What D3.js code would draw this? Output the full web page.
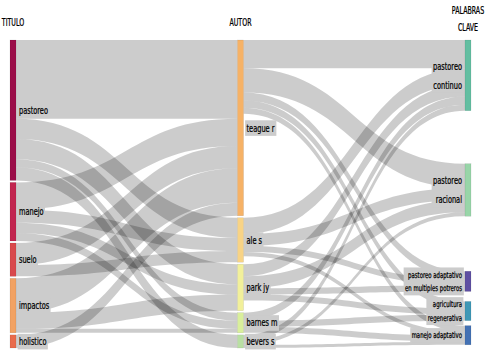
<!DOCTYPE html>
<html>
<head>
<meta charset="utf-8">
<script src="https://cdn.jsdelivr.net/npm/d3@7"></script>
<style>
  body { margin: 0; background: #fff; }
  text { font-family: "DejaVu Sans Condensed", "DejaVu Sans", sans-serif; }
</style>
</head>
<body>
<div id="chart"></div>
<script>
// column headers and node names (top to bottom)
var headers = ["TITULO", "AUTOR", "PALABRAS\nCLAVE"];
var titulo = ["pastoreo", "manejo", "suelo", "impactos", "holistico"];
var autor = ["teague r", "ale s", "park jy", "barnes m", "bevers s"];
var clave = ["pastoreo\ncontinuo", "pastoreo\nracional", "pastoreo adaptativo\nen multiples potreros",
             "agricultura\nregenerativa", "manejo adaptativo"];

// flows: rows = titulo, cols = autor
var tituloAutor = [
  [78, 20, 20, 8, 13],
  [27, 13, 10, 8, 0],
  [22, 11, 0, 0, 0],
  [34, 0, 16, 4, 0],
  [13, 0, 0, 0, 0]
];
// flows: rows = autor, cols = clave
var autorClave = [
  [28, 24, 8, 7, 6],
  [16, 12, 6, 0, 4],
  [12, 12, 6, 6, 0],
  [8, 0, 0, 6, 6],
  [6, 4, 0, 0, 3]
];

var tituloColors = ["#9b0d49", "#c2254f", "#d9494c", "#f2a263", "#e96b4b"];
var autorColors = ["#f6b266", "#f8d385", "#f2f09a", "#d9ef9b", "#b9dfa3"];
var claveColors = ["#63bea1", "#98d5a8", "#5e4fa2", "#3e98b6", "#4371b4"];

var width = 486, height = 362,
    plotTop = 40, plotBottom = 348,
    nodeWidth = 6, pad = 2,
    squeeze = 0.7; // labels in the picture use a narrow face
// extra space above each keyword node (the layout was relaxed there)
var claveGaps = [0, 53, 55, 10, 5];

var svg = d3.select("#chart").append("svg")
    .attr("width", width)
    .attr("height", height);

var x = d3.scalePoint().domain([0, 1, 2]).range([10, 465]);

// build nodes
var cols = [titulo, autor, clave], colors = [tituloColors, autorColors, claveColors];
var nodes = [];
cols.forEach(function(names, c) {
  names.forEach(function(name, i) {
    nodes.push({ name: name, col: c, idx: i, color: colors[c][i], inV: 0, outV: 0, out: [], inn: [] });
  });
});
function node(c, i) { return nodes[c * 5 + i]; }

var links = [];
[tituloAutor, autorClave].forEach(function(m, c) {
  m.forEach(function(row, i) {
    row.forEach(function(v, j) {
      if (!v) return;
      var l = { source: node(c, i), target: node(c + 1, j), value: v };
      l.source.out.push(l); l.target.inn.push(l);
      l.source.outV += v; l.target.inV += v;
      links.push(l);
    });
  });
});
nodes.forEach(function(n) { n.value = Math.max(n.inV, n.outV); });

// vertical scale: same for all columns
var ky = d3.min([0, 1], function(c) {
  var ns = nodes.filter(function(n) { return n.col === c; });
  return (plotBottom - plotTop - (ns.length - 1) * pad) / d3.sum(ns, function(n) { return n.value; });
});

[0, 1, 2].forEach(function(c) {
  var y = plotTop;
  nodes.filter(function(n) { return n.col === c; }).forEach(function(n, i) {
    if (c === 2) y += claveGaps[i];
    n.x0 = x(c); n.x1 = n.x0 + nodeWidth;
    n.y0 = y; n.y1 = y + n.value * ky;
    y = n.y1 + (c === 2 ? 0 : pad);
  });
});

// stack links on nodes
nodes.forEach(function(n) {
  var y = n.y0;
  n.out.forEach(function(l) { l.sy0 = y; y += l.value * ky; l.sy1 = y; });
  y = n.y0;
  n.inn.forEach(function(l) { l.ty0 = y; y += l.value * ky; l.ty1 = y; });
});

function ribbon(l) {
  var x0 = l.source.x1, x1 = l.target.x0, xm = (x0 + x1) / 2;
  return "M" + x0 + "," + l.sy0 +
    "C" + xm + "," + l.sy0 + " " + xm + "," + l.ty0 + " " + x1 + "," + l.ty0 +
    "L" + x1 + "," + l.ty1 +
    "C" + xm + "," + l.ty1 + " " + xm + "," + l.sy1 + " " + x0 + "," + l.sy1 + "Z";
}

svg.append("g").selectAll("path")
    .data(links)
  .enter().append("path")
    .attr("d", ribbon)
    .attr("fill", "rgba(0,0,0,0.2)");

svg.append("g").selectAll("rect")
    .data(nodes)
  .enter().append("rect")
    .attr("x", function(d) { return d.x0; })
    .attr("y", function(d) { return d.y0; })
    .attr("width", nodeWidth)
    .attr("height", function(d) { return d.y1 - d.y0; })
    .attr("fill", function(d) { return d.color; })
    .attr("stroke", "rgba(0,0,0,0.15)")
    .attr("stroke-width", 0.5);

// labels with grey boxes, squeezed horizontally
var label = svg.append("g").selectAll("g")
    .data(nodes)
  .enter().append("g")
    .attr("transform", function(d) {
      var ax = d.col === 2 ? d.x0 - 3 : d.x1 + 3;
      return "translate(" + ax + ",0) scale(" + squeeze + ",1)";
    });

label.each(function(d) {
  var g = d3.select(this);
  var lines = d.name.split("\n");
  var small = d.col === 2 && d.y1 - d.y0 < 30;
  var fs = small ? 8.5 : 10.5;
  var lh = small ? 13.5 : 19;
  var right = d.col === 2;
  var cy = (d.y0 + d.y1) / 2;
  var t = g.append("text")
      .attr("font-size", fs)
      .attr("fill", "#000")
      .attr("stroke", "#000")
      .attr("stroke-width", 0.25)
      .attr("text-anchor", right ? "end" : "start");
  lines.forEach(function(s, k) {
    t.append("tspan")
      .attr("x", 0)
      .attr("y", cy + (k - (lines.length - 1) / 2) * lh + fs * 0.35)
      .text(s);
  });
  var b = t.node().getBBox();
  g.insert("rect", "text")
    .attr("x", b.x - 2)
    .attr("y", b.y - 2)
    .attr("width", b.width + 4)
    .attr("height", b.height + 4)
    .attr("fill", "#cccccc");
});

// column headers
svg.append("g").selectAll("g")
    .data(headers)
  .enter().append("g")
    .attr("transform", function(h, c) {
      return "translate(" + (x(c) + nodeWidth / 2) + ",0) scale(" + squeeze + ",1)";
    })
  .append("text")
    .attr("font-size", 10)
    .attr("fill", "#000")
    .attr("stroke", "#000")
    .attr("stroke-width", 0.25)
    .attr("text-anchor", "middle")
    .each(function(h) {
      var lines = h.split("\n");
      var t = d3.select(this);
      lines.forEach(function(s, k) {
        t.append("tspan")
          .attr("x", 0)
          .attr("y", 26 - (lines.length - 1 - k) * 17 + (lines.length > 1 ? 5 : 0))
          .text(s);
      });
    });
</script>
</body>
</html>
